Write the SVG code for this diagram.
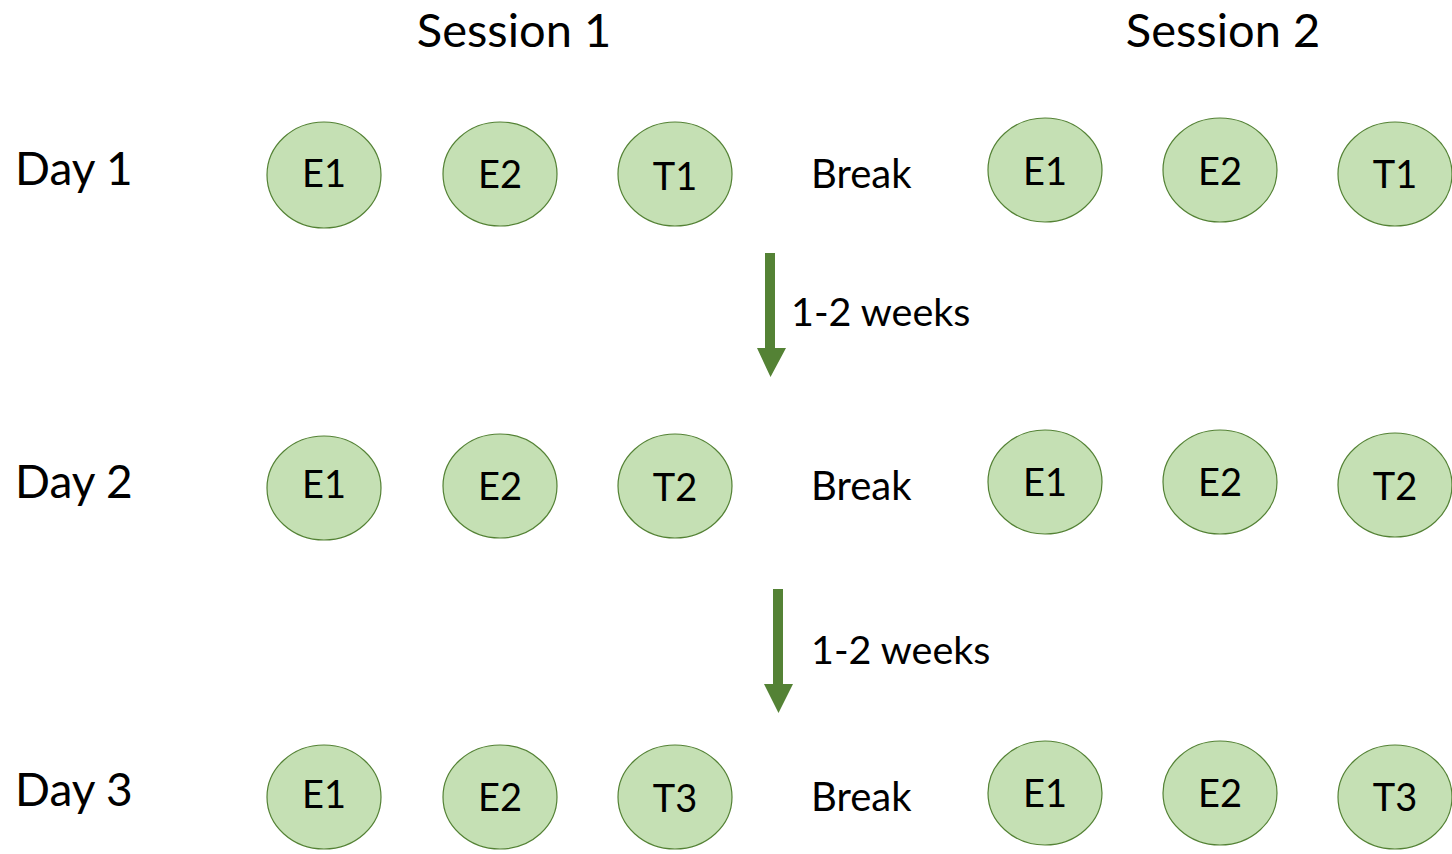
<svg xmlns="http://www.w3.org/2000/svg" width="1452" height="854" viewBox="0 0 1452 854">
<style>
.n ellipse{fill:#C5E0B4;stroke:#548235;stroke-width:1.2}
text{font-family:Lato,"Open Sans",sans-serif;fill:#000}
.n text{font-size:38px;text-anchor:middle}
.day{font-size:46px}
.ses{font-size:47px;text-anchor:middle}
.brk{font-size:40px}
.wk{font-size:39.5px}
.arr{fill:#548235}
</style>
<text class="ses" x="514" y="47">Session 1</text>
<text class="ses" x="1223" y="47">Session 2</text>
<text class="day" x="15" y="185">Day 1</text>
<text class="day" x="15" y="498">Day 2</text>
<text class="day" x="15" y="806">Day 3</text>
<text class="brk" x="811" y="188">Break</text>
<text class="brk" x="811" y="500">Break</text>
<text class="brk" x="811" y="811">Break</text>
<g id="d1s1e1" class="n"><ellipse cx="324" cy="175" rx="57" ry="53"/><text x="324" y="187">E1</text></g>
<g id="d1s1e2" class="n"><ellipse cx="500" cy="174" rx="57" ry="52"/><text x="500" y="188">E2</text></g>
<g id="d1s1t1" class="n"><ellipse cx="675" cy="174" rx="57" ry="52"/><text x="675" y="190">T1</text></g>
<g id="d1s2e1" class="n"><ellipse cx="1045" cy="170" rx="57" ry="52"/><text x="1045" y="185">E1</text></g>
<g id="d1s2e2" class="n"><ellipse cx="1220" cy="170" rx="57" ry="52"/><text x="1220" y="185">E2</text></g>
<g id="d1s2t1" class="n"><ellipse cx="1395" cy="174" rx="57" ry="52"/><text x="1395" y="188">T1</text></g>
<g id="d2s1e1" class="n"><ellipse cx="324" cy="488" rx="57" ry="52"/><text x="324" y="498">E1</text></g>
<g id="d2s1e2" class="n"><ellipse cx="500" cy="486" rx="57" ry="52"/><text x="500" y="500">E2</text></g>
<g id="d2s1t2" class="n"><ellipse cx="675" cy="486" rx="57" ry="52"/><text x="675" y="501">T2</text></g>
<g id="d2s2e1" class="n"><ellipse cx="1045" cy="482" rx="57" ry="52"/><text x="1045" y="496">E1</text></g>
<g id="d2s2e2" class="n"><ellipse cx="1220" cy="482" rx="57" ry="52"/><text x="1220" y="496">E2</text></g>
<g id="d2s2t2" class="n"><ellipse cx="1395" cy="485" rx="57" ry="52"/><text x="1395" y="500">T2</text></g>
<g id="d3s1e1" class="n"><ellipse cx="324" cy="797" rx="57" ry="52"/><text x="324" y="808">E1</text></g>
<g id="d3s1e2" class="n"><ellipse cx="500" cy="797" rx="57" ry="52"/><text x="500" y="811">E2</text></g>
<g id="d3s1t3" class="n"><ellipse cx="675" cy="797" rx="57" ry="52"/><text x="675" y="812">T3</text></g>
<g id="d3s2e1" class="n"><ellipse cx="1045" cy="793" rx="57" ry="52"/><text x="1045" y="807">E1</text></g>
<g id="d3s2e2" class="n"><ellipse cx="1220" cy="793" rx="57" ry="52"/><text x="1220" y="807">E2</text></g>
<g id="d3s2t3" class="n"><ellipse cx="1395" cy="797" rx="57" ry="52"/><text x="1395" y="811">T3</text></g>
<g id="connectors">
<polygon class="arr" points="765,253 775,253 775,348 786,348 770.5,377 757,348 765,348"/>
<polygon class="arr" points="773,589 783,589 783,684 793,684 778.5,713 764,684 773,684"/>
<text class="wk" x="791" y="326">1-2 weeks</text>
<text class="wk" x="811" y="664">1-2 weeks</text>
</g>
</svg>
